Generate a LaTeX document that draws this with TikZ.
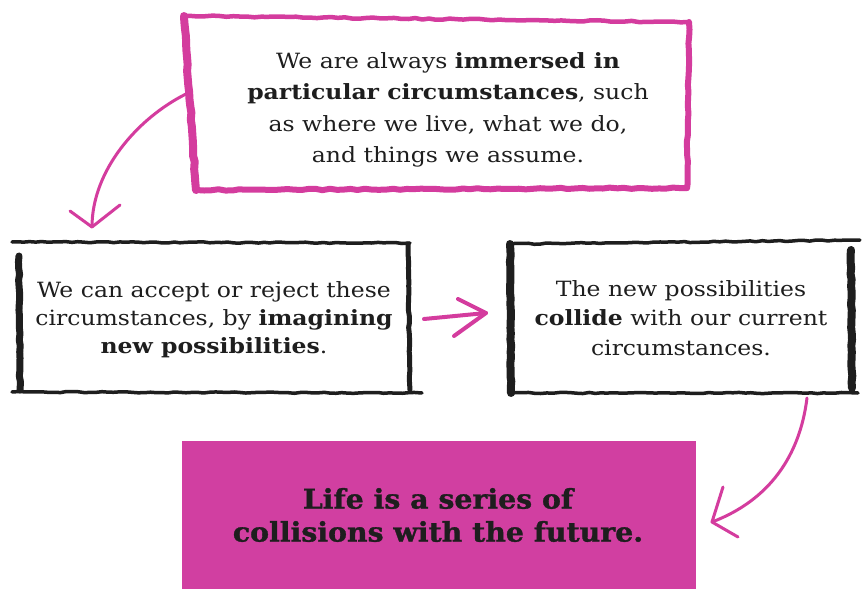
\documentclass[tikz,border=0pt]{standalone}
\usepackage{fontspec}
\setmainfont{DejaVu Serif}[FakeStretch=1.12]
\newfontfamily\heavyfont{DejaVu Serif Bold}[FakeStretch=1.05, FakeBold=1.2]
\usetikzlibrary{decorations.pathmorphing}
\definecolor{pinkline}{HTML}{D43C9E}
\definecolor{pinkfill}{HTML}{D13FA1}
\definecolor{inkblack}{HTML}{1E1E1E}
\begin{document}
\begin{tikzpicture}[x=1pt,y=-1pt,
  pinkedge/.style={draw=pinkline, line width=6pt, line cap=round, line join=round, decorate, decoration={random steps, segment length=7pt, amplitude=0.7pt}},
  blackedge/.style={draw=inkblack, line width=3.5pt, line cap=round, line join=round, decorate, decoration={random steps, segment length=6pt, amplitude=0.6pt}},
  txt/.style={align=center, font=\fontsize{21}{28}\selectfont, text=inkblack, inner sep=0pt},
  bigtxt/.style={align=center, font=\fontsize{27}{33}\selectfont\heavyfont, text=inkblack, inner sep=0pt},
  arrowline/.style={draw=pinkline, line width=3pt, line cap=round, line join=round}]
\pgfmathsetseed{7}
\useasboundingbox (0,0) rectangle (863,589);
\fill[white] (0,0) rectangle (863,589);

% top box
\coordinate (t1) at (184,16);
\coordinate (t2) at (689,22);
\coordinate (t3) at (687,188);
\coordinate (t4) at (196,190);
\draw[pinkedge, line width=4.5pt] (t1) -- (t2);
\draw[pinkedge] (t2) -- (t3);
\draw[pinkedge] (t3) -- (t4);
\draw[pinkedge, line width=8pt] (t4) -- (t1);
\node[txt, font=\fontsize{21}{31.5}\selectfont] (toptext) at (448,110) {We are always \textbf{immersed in}\\ \textbf{particular circumstances}, such\\ as where we live, what we do,\\ and things we assume.};

% left box
\coordinate (l1) at (12,242);
\coordinate (l2) at (410,243);
\coordinate (l3) at (410,390);
\coordinate (l4) at (12,392);
\draw[blackedge] (l1) -- (l2);
\draw[blackedge, line width=5pt] (408,244) -- (l3);
\draw[blackedge] (l4) -- (422,393);
\draw[blackedge, line width=7pt] (19,256) -- (20,390);
\node[txt] (lefttext) at (214,320) {We can accept or reject these\\ circumstances, by \textbf{imagining}\\ \textbf{new possibilities}.};

% right box
\coordinate (r1) at (510,244);
\coordinate (r2) at (860,240);
\coordinate (r3) at (858,393);
\coordinate (r4) at (511,393);
\draw[blackedge] (r1) -- (r2);
\draw[blackedge, line width=8pt] (r1) -- (r4);
\draw[blackedge, line width=8pt] (851,250) -- (852,388);
\draw[blackedge] (r4) -- (r3);
\node[txt, font=\fontsize{21}{29.5}\selectfont] (righttext) at (681,318) {The new possibilities\\ \textbf{collide} with our current\\ circumstances.};

% bottom box
\node[fill=pinkfill, minimum width=514pt, minimum height=149pt, anchor=north west, inner sep=0pt] (bottombox) at (182,441) {};
\node[bigtxt] (bottomtext) at (438,515) {Life is a series of\\ collisions with the future.};

% arrow 1
\coordinate (a1s) at (186,94);
\coordinate (a1e) at (92,227);
\coordinate (a1l) at (70,211);
\coordinate (a1r) at (120,205);
\draw[arrowline] (a1s) .. controls (138,118) and (92,170) .. (a1e);
\draw[arrowline] (a1l) -- (a1e) -- (a1r);

% arrow 2
\coordinate (a2s) at (424,319);
\coordinate (a2e) at (486,313);
\coordinate (a2l) at (458,299);
\coordinate (a2r) at (454,336);
\draw[arrowline, line width=4pt] (a2s) -- (a2e);
\draw[arrowline, line width=4pt] (a2l) -- (a2e) -- (a2r);

% arrow 3
\coordinate (a3s) at (807,398);
\coordinate (a3e) at (712,522);
\coordinate (a3l) at (723,487);
\coordinate (a3r) at (738,537);
\draw[arrowline] (a3s) .. controls (800,455) and (770,500) .. (a3e);
\draw[arrowline] (a3l) -- (a3e) -- (a3r);
\end{tikzpicture}
\end{document}
